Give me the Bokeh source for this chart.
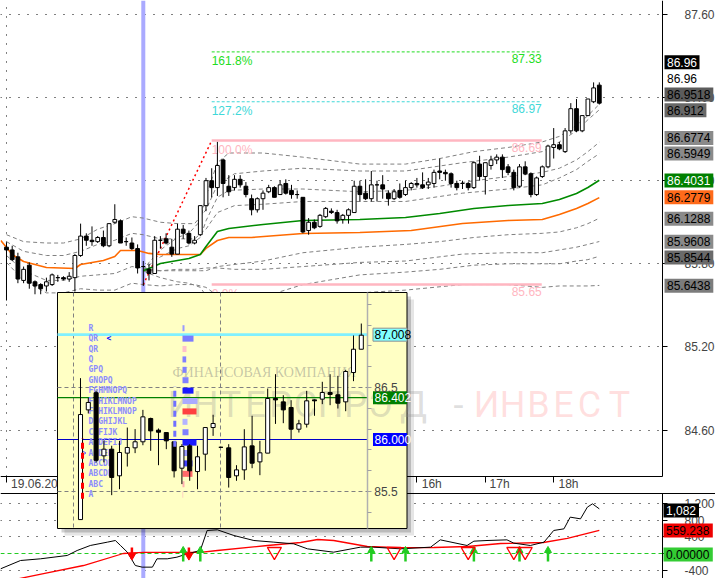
from bokeh.plotting import figure
from bokeh.models import Range1d, LinearAxis, FixedTicker, NumeralTickFormatter, Span, Grid
from bokeh.core.properties import value
from bokeh.embed import file_html
from bokeh.resources import INLINE

# ---------------- data ----------------
# 5-minute bars of 19.06, 10:00 ... 18:40 (x = bar number since 10:00)
candle_open = [85.92, 85.90, 85.85, 85.68, 85.79, 85.67, 85.65, 85.64, 85.65, 85.70,
               85.70, 85.69, 85.70, 85.86, 86.00, 85.97, 85.96, 85.99, 85.93, 86.10,
               86.11, 85.96, 85.95, 85.91, 85.78, 85.76, 85.73, 85.97, 85.98, 85.92,
               85.87, 86.05, 86.02, 85.95, 86.01, 86.22, 86.40, 86.35, 86.55, 86.36,
               86.35, 86.41, 86.36, 86.27, 86.19, 86.27, 86.32, 86.35, 86.30, 86.38,
               86.33, 86.30, 86.28, 86.04, 86.10, 86.07, 86.14, 86.18, 86.17, 86.12,
               86.15, 86.17, 86.36, 86.31, 86.27, 86.37, 86.37, 86.31, 86.27, 86.33,
               86.30, 86.35, 86.38, 86.37, 86.37, 86.38, 86.47, 86.46, 86.45, 86.38,
               86.38, 86.38, 86.35, 86.52, 86.43, 86.51, 86.55, 86.57, 86.50, 86.46,
               86.36, 86.50, 86.45, 86.30, 86.43, 86.50, 86.64, 86.66, 86.61, 86.76,
               86.92, 86.76, 86.87, 86.97, 87.09]
candle_high = [85.955, 85.93, 85.88, 85.78, 85.81, 85.68, 85.66, 85.70, 85.73, 85.72,
               85.71, 85.74, 85.87, 86.09, 86.02, 86.07, 86.00, 86.04, 86.09, 86.23,
               86.12, 85.99, 85.99, 85.94, 85.82, 85.80, 86.00, 86.00, 86.02, 85.98,
               86.09, 86.08, 86.04, 86.00, 86.22, 86.42, 86.49, 86.68, 86.56, 86.44,
               86.44, 86.44, 86.39, 86.30, 86.28, 86.33, 86.37, 86.36, 86.40, 86.41,
               86.37, 86.33, 86.28, 86.13, 86.12, 86.16, 86.21, 86.20, 86.19, 86.16,
               86.20, 86.40, 86.40, 86.41, 86.47, 86.40, 86.44, 86.33, 86.34, 86.38,
               86.40, 86.39, 86.42, 86.46, 86.42, 86.48, 86.56, 86.48, 86.46, 86.40,
               86.40, 86.39, 86.54, 86.58, 86.53, 86.58, 86.59, 86.59, 86.52, 86.48,
               86.52, 86.54, 86.46, 86.43, 86.51, 86.66, 86.78, 86.68, 86.78, 86.96,
               86.99, 86.87, 86.99, 87.11, 87.11]
candle_low = [85.535, 85.82, 85.66, 85.66, 85.62, 85.58, 85.58, 85.60, 85.64, 85.67,
              85.68, 85.67, 85.60, 85.85, 85.93, 85.93, 85.95, 85.92, 85.92, 86.09,
              85.95, 85.93, 85.90, 85.73, 85.64, 85.68, 85.73, 85.91, 85.94, 85.85,
              85.87, 85.98, 85.94, 85.94, 86.00, 86.18, 86.28, 86.29, 86.28, 86.29,
              86.33, 86.35, 86.28, 86.15, 86.17, 86.19, 86.31, 86.28, 86.30, 86.30,
              86.27, 86.27, 86.02, 86.01, 86.05, 86.06, 86.13, 86.16, 86.09, 86.09,
              86.09, 86.17, 86.25, 86.26, 86.25, 86.25, 86.27, 86.22, 86.26, 86.27,
              86.29, 86.33, 86.35, 86.34, 86.34, 86.35, 86.41, 86.40, 86.35, 86.33,
              86.34, 86.33, 86.34, 86.40, 86.30, 86.48, 86.52, 86.42, 86.44, 86.33,
              86.35, 86.44, 86.28, 86.29, 86.42, 86.49, 86.56, 86.62, 86.60, 86.74,
              86.75, 86.75, 86.87, 86.96, 86.95]
candle_close = [85.90, 85.83, 85.69, 85.76, 85.66, 85.64, 85.62, 85.67, 85.72, 85.70,
                85.69, 85.71, 85.86, 86.00, 85.97, 85.96, 85.99, 85.93, 86.09, 86.12,
                85.95, 85.96, 85.91, 85.77, 85.78, 85.73, 85.97, 85.97, 85.95, 85.87,
                86.05, 86.02, 85.95, 85.97, 86.22, 86.40, 86.35, 86.51, 86.38, 86.32,
                86.41, 86.37, 86.30, 86.19, 86.27, 86.31, 86.35, 86.28, 86.37, 86.31,
                86.30, 86.30, 86.03, 86.10, 86.06, 86.15, 86.20, 86.17, 86.11, 86.15,
                86.19, 86.36, 86.30, 86.27, 86.37, 86.37, 86.34, 86.27, 86.32, 86.28,
                86.35, 86.38, 86.37, 86.35, 86.39, 86.46, 86.46, 86.45, 86.38, 86.35,
                86.38, 86.35, 86.53, 86.43, 86.53, 86.55, 86.57, 86.48, 86.46, 86.35,
                86.50, 86.45, 86.30, 86.42, 86.50, 86.65, 86.66, 86.63, 86.76, 86.92,
                86.76, 86.87, 86.99, 87.07, 86.96]

# moving averages (vertices: bar number, price)
orange_idx = [-1, 1, 3, 7, 12, 13, 17, 19, 20, 23, 25, 27, 34, 35, 37, 39, 43, 52, 62, 71, 80, 88, 94, 97, 100, 102, 104]
orange_val = [85.968, 85.867, 85.817, 85.773, 85.766, 85.795, 85.824, 85.853, 85.896, 85.896, 85.875, 85.867, 85.867,
              85.911, 85.968, 85.990, 85.990, 86.019, 86.026, 86.040, 86.091, 86.113, 86.120, 86.156, 86.199, 86.235, 86.2779]
green_idx = [24, 25, 27, 32, 34, 35, 37, 39, 45, 52, 62, 70, 76, 82, 88, 94, 97, 100, 102, 104]
green_val = [85.75, 85.766, 85.802, 85.838, 85.867, 85.925, 86.033, 86.055, 86.084, 86.113, 86.120, 86.134,
             86.163, 86.199, 86.221, 86.235, 86.264, 86.307, 86.351, 86.4031]

# deviation bands around the orange line
ob_idx = [0, 3, 7, 10, 13, 16, 19, 22, 24, 27, 30, 33, 35, 37, 40, 45, 52, 62, 70, 80, 88, 94, 97, 100, 102, 104]
o_up1 = [85.96, 85.89, 85.86, 85.86, 85.89, 85.94, 85.97, 86.02, 86.01, 85.98, 85.98, 85.98, 86.05,
         86.17, 86.22, 86.23, 86.25, 86.25, 86.25, 86.31, 86.34, 86.37, 86.42, 86.48, 86.54, 86.5949]
o_up2 = [86.01, 85.96, 85.95, 85.95, 85.98, 86.05, 86.09, 86.14, 86.13, 86.10, 86.09, 86.09, 86.19,
         86.37, 86.45, 86.47, 86.49, 86.47, 86.47, 86.53, 86.57, 86.61, 86.68, 86.76, 86.84, 86.912]
o_dn1 = [85.86, 85.75, 85.68, 85.68, 85.71, 85.72, 85.73, 85.78, 85.77, 85.75, 85.76, 85.76, 85.77,
         85.77, 85.76, 85.76, 85.78, 85.81, 85.82, 85.87, 85.88, 85.88, 85.90, 85.92, 85.94, 85.9608]
o_dn2 = [85.81, 85.68, 85.59, 85.59, 85.62, 85.61, 85.61, 85.66, 85.65, 85.64, 85.65, 85.65, 85.63,
         85.57, 85.53, 85.53, 85.55, 85.59, 85.61, 85.65, 85.65, 85.63, 85.64, 85.64, 85.64, 85.6438]
# deviation bands around the green line
gb_idx = [24, 25, 27, 30, 32, 34, 35, 37, 39, 45, 52, 62, 70, 76, 82, 88, 94, 97, 100, 102, 104]
g_up1 = [85.75, 85.79, 85.85, 85.91, 85.93, 85.99, 86.11, 86.28, 86.33, 86.34, 86.34, 86.32, 86.33,
         86.36, 86.40, 86.43, 86.46, 86.49, 86.55, 86.61, 86.6774]
g_up2 = [85.75, 85.81, 85.90, 85.99, 86.02, 86.11, 86.29, 86.53, 86.60, 86.60, 86.57, 86.52, 86.52,
         86.56, 86.61, 86.64, 86.68, 86.72, 86.80, 86.87, 86.9518]
g_dn1 = [85.75, 85.75, 85.75, 85.75, 85.75, 85.75, 85.75, 85.78, 85.79, 85.82, 85.88, 85.92, 85.94,
         85.96, 85.99, 86.01, 86.02, 86.03, 86.06, 86.09, 86.1288]
g_dn2 = [85.75, 85.73, 85.70, 85.67, 85.66, 85.63, 85.57, 85.53, 85.52, 85.56, 85.65, 85.72, 85.74,
         85.76, 85.79, 85.80, 85.80, 85.80, 85.82, 85.83, 85.8544]

# Fibonacci extension
fib_pct = ["0.0%", "100.0%", "127.2%", "161.8%"]
fib_price = [85.65, 86.69, 86.97, 87.33]
fib_anchor_idx = [24, 36]
fib_end_idx = 93.9
session_idx = 24   # 12:00
day_start_idx = 0  # 10:00

# oscillator pane
osc_idx = [-1.05, 2.46, 5.96, 10.65, 12.4, 14.7, 17.7, 19.1, 20, 21.2, 22.6, 23.8, 25.6, 26.4, 28.2, 29.9,
           31.7, 34, 35.2, 37, 39.9, 43.4, 46.9, 50.4, 52.8, 57.4, 62.1, 64.4, 69.1, 74.4, 76.1, 80.8, 82,
           84.3, 87.8, 89, 91.9, 94.3, 96, 97.8, 98.9, 100.7, 101.9, 102.8, 104]
osc_val = [-372, -170, -129, -48, 73, 194, 275, 315, 194, 32, -291, -331, -331, -129, -129, -89,
           -8, 73, 558, 574, 436, 315, 275, 234, 113, 32, 154, 154, 113, 154, 331, 194, 299,
           315, 331, 251, 194, 275, 558, 598, 881, 840, 1123, 1204, 1082]
sig_idx = [-1.05, 6.5, 13.5, 20.5, 24, 34, 37, 45.8, 51.6, 54.6, 57.4, 63.3, 69.1, 75, 80.9, 86.7, 94.2, 98.4, 104]
sig_val = [-700, -490, -291, 0, 28, 28, 73, 194, 267, 339, 315, 170, 140, 145, 170, 242, 267, 364, 559]
up_idx = [31, 34, 64, 70, 82, 90, 95]
down_idx = [22, 32]
warn_idx = [47, 68, 81, 89, 91]

# axis ticks / labels
price_ticks = [84.60, 85.20, 85.80, 86.40, 87.00, 87.60]
osc_ticks = [-400, 0, 400, 800, 1200]
osc_grid_ticks = [-400, 400, 800, 1200]
hour_tick_idx = [0, 12, 24, 36, 48, 60, 72, 84, 96]
hour_labels = ["19.06.20", "16h", "17h", "18h"]
hour_label_idx = [4.9, 74.6, 86.5, 98.6]

# value tags on the right
tag_text = ["86.96", "86.96", "86.9518", "86.912", "86.6774", "86.5949", "86.4031", "86.2779",
            "86.1288", "85.9608", "85.8544", "85.6438"]
tag_pos = [87.2556, 87.1415, 87.0231, 86.9090, 86.7090, 86.5964, 86.4015, 86.2809,
           86.1249, 85.9596, 85.8455, 85.6419]
tag_fill = ["#000000", None, "#5c5c5c", "#686868", "#8a8a8a", "#8a8a8a", "#008000", "#ff6a1a",
            "#8a8a8a", "#8a8a8a", "#6a6a6a", "#7c7c7c"]
tag_tcol = ["white", "black", "black", "black", "black", "black", "white", "black",
            "black", "black", "black", "black"]
osc_tag_text = ["1,082", "559.238", "0.00000"]
osc_tag_pos = [1042, 558, -24]
osc_tag_fill = ["#000000", "#ee0000", "#33cc33"]
osc_tag_tcol = ["white", "black", "black"]

# inset (zoomed candles with TPO profile)
ins_open = [85.23, 86.285, 86.45, 85.843, 85.907, 85.651, 85.869, 85.920, 85.978, 86.202, 86.09, 86.067,
            85.978, 85.724, 85.939, 85.692, 85.859, 86.115, 85.925, 85.92, 85.651, 85.708, 85.939, 85.785,
            85.869, 86.394, 86.362, 86.308, 86.099, 86.147, 86.381, 86.388, 86.452, 86.430, 86.362, 86.644, 86.868]
ins_high = [86.59, 86.40, 86.47, 85.99, 85.94, 85.987, 86.115, 86.10, 86.285, 86.21, 86.106, 86.067,
            85.978, 85.955, 85.955, 85.94, 86.115, 86.238, 85.93, 85.955, 85.753, 86.099, 86.228, 85.987,
            86.490, 86.628, 86.426, 86.378, 86.189, 86.468, 86.385, 86.555, 86.628, 86.612, 86.670, 87.0, 87.115]
ins_low = [85.23, 86.25, 85.78, 85.78, 85.465, 85.522, 85.74, 85.869, 85.945, 85.891, 85.753, 85.907,
           85.635, 85.571, 85.603, 85.522, 85.70, 86.035, 85.92, 85.538, 85.603, 85.612, 85.724, 85.657,
           85.869, 86.15, 86.157, 86.003, 86.067, 86.115, 86.228, 86.340, 86.330, 86.298, 86.272, 86.561, 86.868]
ins_close = [86.24, 86.356, 85.80, 85.907, 85.635, 85.875, 85.923, 85.978, 86.218, 86.083, 86.07, 85.987,
             85.699, 85.933, 85.699, 85.834, 86.115, 86.154, 85.925, 85.635, 85.708, 85.929, 85.772, 85.872,
             86.394, 86.381, 86.285, 86.099, 86.151, 86.372, 86.372, 86.452, 86.433, 86.349, 86.654, 86.868, 87.003]
tpo_price = [87.07, 86.97, 86.87, 86.77, 86.67, 86.57, 86.47, 86.37, 86.27, 86.17, 86.07, 85.97,
             85.87, 85.77, 85.67, 85.57, 85.47]
tpo_letters = ["R", "QR", "QR", "Q", "GPQ", "GNOPQ", "FGHMNOPQ", "FGHIKLMNOP", "FGHIKLMNOP", "DFGHIJKL",
               "CDFIJK", "ACDEFIJ", "ACDEF", "ABCDE", "ABCDE", "ABC", "A"]
tpo_volume = [20, 110, 40, 37, 40, 60, 110, 150, 140, 50, 60, 140, 77, 100, 100, 20, 7]
tpo_colors = ["#9a9aff", "#7b7bff", "#ffc0cb", "#8080ff", "#8080ff", "#8080ff", "#1a1aff", "#aaaaff",
              "#ff4040", "#b4b4ff", "#8080ff", "#1a1aff", "#9a9aff", "#4040ff", "#ff6a6a", "#ffb0b0", "#ffc0c0"]
ins_level_price = [87.008, 86.402, 86.000]
ins_level_text = ["87.008", "86.402", "86.000"]
ins_level_color = ["#80f0ff", "#008000", "#0000c8"]
ins_tag_fill = ["#80ffff", "#008000", "#0000ff"]
ins_tag_tcol = ["black", "white", "white"]
ins_axis_ticks = [85.3, 85.5, 85.7, 85.9, 86.1, 86.3, 86.5, 86.7, 86.9, 87.1, 87.3]
ins_axis_labels = {85.5: "85.5", 86.5: "86.5"}
ib_range = [85.43, 86.01]      # red initial-balance marks
va_range = [85.93, 86.51]      # blue value-area marks

wm_title = "ФИНАНСОВАЯ КОМПАНИЯ"
wm_letters = list("ИНТЕРСПРЭД-ИНВЕСТ")

# ---------------- layout constants (screen geometry) ----------------
FONT = "Liberation Sans"
PX_X = 5.7          # px per bar
PX_Y = 138.5        # px per price unit
X_START, X_END = -1.0526, 124.386
Y_START, Y_END = 83.5278, 87.70108
AXIS_X = 115.088    # price axis line
TAG_LEFT = 115.44
TAG_TXT = 115.877
BAND_TOP = 84.2643  # top line of the time band
PANE_TOP = 84.1415  # top line of the oscillator pane
OSC_PX = 24.24      # oscillator units per px
INS_PX_X = 7.8
INS_PX_Y = 104.0

p = figure(width=715, height=578, x_range=Range1d(X_START, X_END), y_range=Range1d(Y_START, Y_END),
           x_axis_type=None, y_axis_type=None, output_backend="svg", toolbar_location=None,
           min_border=0, min_border_left=0, min_border_right=0, min_border_top=0, min_border_bottom=0)
p.outline_line_color = None
p.background_fill_color = "white"
p.border_fill_color = "white"
p.extra_y_ranges = {"osc": Range1d(-606, 13404.7), "ins": Range1d(84.6635, 90.2212)}
p.extra_x_ranges = {"insx": Range1d(-10.2564, 81.4103), "prof": Range1d(-1820, 5330)}

# grids
p.add_layout(Grid(dimension=1, ticker=FixedTicker(ticks=price_ticks), grid_line_color="black",
                  grid_line_dash="1 8", grid_line_width=1))
p.add_layout(Grid(dimension=1, y_range_name="osc", ticker=FixedTicker(ticks=osc_grid_ticks),
                  grid_line_color="black", grid_line_dash="1 8", grid_line_width=1))
p.add_layout(Span(location=session_idx, dimension="height", line_color="#aaaaff", line_width=4, level="underlay"))

# right label column background
p.quad(left=[AXIS_X], right=[X_END], bottom=[Y_START], top=[Y_END], fill_color="white", line_color=None)
# day-start dotted line
p.segment(x0=[day_start_idx], x1=[day_start_idx], y0=[BAND_TOP], y1=[Y_END], line_color="black",
          line_dash="1 8", line_width=1)

# bands
for vals in (o_up2, o_up1, o_dn1, o_dn2):
    p.line(ob_idx, vals, line_color="#808080", line_dash="4 3", line_width=1)
for vals in (g_up2, g_up1, g_dn1, g_dn2):
    p.line(gb_idx, vals, line_color="#808080", line_dash="4 3", line_width=1)
p.line(orange_idx, orange_val, line_color="#ff6a00", line_width=1.6)
p.line(green_idx, green_val, line_color="#008a00", line_width=1.6)

# fibonacci
fib_colors = ["#ffb6c1", "#ffb6c1", "#40d8d8", "#22dd22"]
fib_dashes = ["solid", "solid", "3 2", "3 2"]
fib_widths = [2.5, 2.5, 1, 1]
for pr, col, dsh, lw in zip(fib_price, fib_colors, fib_dashes, fib_widths):
    p.segment(x0=[fib_anchor_idx[1]], x1=[fib_end_idx], y0=[pr], y1=[pr], line_color=col, line_dash=dsh, line_width=lw)
p.line(fib_anchor_idx, fib_price[:2], line_color="#ff0000", line_dash="2 3", line_width=1.5)
p.text(x=[fib_anchor_idx[1]] * 4, y=fib_price, text=fib_pct, text_color=fib_colors, text_baseline="top",
       y_offset=2, text_font_size="12px", text_font=value(FONT))
p.text(x=[fib_end_idx] * 4, y=fib_price, text=["%.2f" % v for v in fib_price], text_color=fib_colors,
       text_baseline="top", text_align="right", y_offset=2, text_font_size="12px", text_font=value(FONT))

# candles
idx = list(range(len(candle_open)))
p.segment(x0=idx, x1=idx, y0=candle_low, y1=candle_high, line_color="black", line_width=1)
up = [i for i in idx if candle_close[i] >= candle_open[i]]
dn = [i for i in idx if candle_close[i] < candle_open[i]]
p.vbar(x=up, bottom=[candle_open[i] for i in up], top=[candle_close[i] for i in up], width=0.66,
       fill_color="white", line_color="black", line_width=1)
p.vbar(x=dn, bottom=[candle_close[i] for i in dn], top=[candle_open[i] for i in dn], width=0.66,
       fill_color="black", line_color="black", line_width=1)

# oscillator
p.segment(x0=[X_START], x1=[AXIS_X], y0=[0], y1=[0], y_range_name="osc", line_color="#22cc22",
          line_dash="4 3", line_width=1.2)
p.line(sig_idx, sig_val, y_range_name="osc", line_color="#ff0000", line_width=1.3)
p.line(osc_idx, osc_val, y_range_name="osc", line_color="black", line_width=1)
n = len(up_idx)
p.segment(x0=up_idx, x1=up_idx, y0=[24] * n, y1=[-194] * n, y_range_name="osc", line_color="#22cc22", line_width=2.5)
p.scatter(up_idx, [73] * n, y_range_name="osc", marker="triangle", size=7, fill_color="#22cc22", line_color="#22cc22")
n = len(down_idx)
p.segment(x0=down_idx, x1=down_idx, y0=[145] * n, y1=[0] * n, y_range_name="osc", line_color="#ff0000", line_width=2.5)
p.scatter(down_idx, [-48] * n, y_range_name="osc", marker="inverted_triangle", size=8, fill_color="#ff0000", line_color="#ff0000")
n = len(warn_idx)
p.scatter(warn_idx, [48] * n, y_range_name="osc", marker="inverted_triangle", size=14, fill_color=None,
          line_color="#ff0000", line_width=1.3)

p.add_layout(Span(location=PANE_TOP, dimension="width", line_color="black", line_width=1, level="glyph"))

# axes
ax_price = LinearAxis(fixed_location=AXIS_X, bounds=(BAND_TOP, Y_END), ticker=FixedTicker(ticks=price_ticks),
                      formatter=NumeralTickFormatter(format="0.00"), major_tick_out=5, major_tick_in=0,
                      minor_tick_out=0, minor_tick_in=0, major_label_standoff=17,
                      major_label_text_font_size="12px", major_label_text_font=FONT,
                      axis_line_color="black", major_tick_line_color="black")
p.add_layout(ax_price, "right")
ax_osc = LinearAxis(y_range_name="osc", fixed_location=AXIS_X, bounds=(-606, 1454), ticker=FixedTicker(ticks=osc_ticks),
                    formatter=NumeralTickFormatter(format="0,0"), major_tick_out=5, major_tick_in=0,
                    minor_tick_out=0, minor_tick_in=0, major_label_standoff=17,
                    major_label_text_font_size="12px", major_label_text_font=FONT,
                    axis_line_color="black", major_tick_line_color="black")
p.add_layout(ax_osc, "right")
ax_hours = LinearAxis(fixed_location=BAND_TOP, bounds=(X_START, AXIS_X), ticker=FixedTicker(ticks=hour_tick_idx),
                      major_label_overrides={t: "" for t in hour_tick_idx}, major_tick_out=6, major_tick_in=0,
                      minor_tick_out=0, minor_tick_in=0, axis_line_color="black", major_tick_line_color="black")
p.add_layout(ax_hours, "below")
ax_hlab = LinearAxis(fixed_location=BAND_TOP, ticker=FixedTicker(ticks=hour_label_idx),
                     major_label_overrides=dict(zip(hour_label_idx, hour_labels)), major_tick_out=0, major_tick_in=0,
                     minor_tick_out=0, minor_tick_in=0, axis_line_color=None, major_tick_line_color=None,
                     major_label_standoff=1, major_label_text_font_size="12px", major_label_text_font=FONT)
p.add_layout(ax_hlab, "below")

# value tags (main)
box_i = [i for i, f in enumerate(tag_fill) if f is not None]
p.quad(left=[TAG_LEFT] * len(box_i), right=[TAG_LEFT + (6.9 * len(tag_text[i]) + 0.5) / PX_X for i in box_i],
       bottom=[tag_pos[i] - 7 / PX_Y for i in box_i], top=[tag_pos[i] + 7 / PX_Y for i in box_i],
       fill_color=[tag_fill[i] for i in box_i], line_color=None, level="overlay")
p.text(x=[TAG_TXT] * len(tag_text), y=tag_pos, text=tag_text, text_color=tag_tcol, text_baseline="middle",
       text_font_size="12px", text_font=value(FONT), level="overlay")
# value tags (oscillator)
OSC_LEFT = 115.263
p.quad(left=[OSC_LEFT] * 3, right=[OSC_LEFT + (6.9 * len(t) + 1) / PX_X for t in osc_tag_text],
       bottom=[v - 7 * OSC_PX for v in osc_tag_pos], top=[v + 7 * OSC_PX for v in osc_tag_pos],
       fill_color=osc_tag_fill, line_color=None, y_range_name="osc", level="overlay")
p.text(x=[OSC_LEFT + 2.5 / PX_X] * 3, y=osc_tag_pos, text=osc_tag_text, text_color=osc_tag_tcol,
       text_baseline="middle", text_font_size="12px", text_font=value(FONT), y_range_name="osc", level="overlay")

# ---------------- inset ----------------
KI = dict(x_range_name="insx", y_range_name="ins", level="annotation")
IL, IR, IT, IB = -2.949, 41.86, 87.4135, 85.1442
IAX = 36.76
for off, alpha in ((7, 0.10), (4, 0.18)):
    p.quad(left=[IL + off / INS_PX_X], right=[IR + off / INS_PX_X], top=[IT - off / INS_PX_Y],
           bottom=[IB - off / INS_PX_Y], fill_color="black", fill_alpha=alpha, line_color=None, **KI)
p.quad(left=[IL], right=[IR], top=[IT], bottom=[IB], fill_color="#ffffc4", line_color="black", line_width=1, **KI)

# watermark (under inset content)
KW = dict(level="annotation")
p.text(x=[(172 - 6) / PX_X], y=[85.0152], text=[wm_title], text_color="#808080", text_alpha=0.45,
       text_baseline="middle", text_font_size="14px", text_font=value("Liberation Serif"), **KW)
wm_x_px = [180, 205, 230, 255, 280, 305, 330, 355, 380, 413, 458, 486, 512, 538, 563, 589, 619]
wm_cols = ["#909090"] * 11 + ["#ff8080"] * 6
wm_alpha = [0.3] * 11 + [0.25] * 6
p.text(x=[(x - 6) / PX_X for x in wm_x_px], y=[84.784] * len(wm_letters), text=wm_letters, text_color=wm_cols,
       text_alpha=wm_alpha, text_align="center", text_baseline="middle", text_font_size="36px",
       text_font=value("Roboto"), **KW)

# inset grid
p.segment(x0=[-0.897, 17.95], x1=[-0.897, 17.95], y0=[IT, IT], y1=[IB, IB], line_color="#808080",
          line_dash="4 3", line_width=1, **KI)
p.segment(x0=[IL, IL], x1=[IAX, IAX], y0=[86.5, 85.5], y1=[86.5, 85.5], line_color="#808080",
          line_dash="4 3", line_width=1, **KI)
for pr, col, lw in zip(ins_level_price, ins_level_color, [2.6, 1.2, 1.2]):
    p.segment(x0=[IL], x1=[IAX], y0=[pr], y1=[pr], line_color=col, line_width=lw, **KI)

# TPO profile
p.hbar(y=tpo_price, left=[0] * len(tpo_volume), right=tpo_volume, height=0.058, fill_color=tpo_colors,
       line_color=None, x_range_name="prof", y_range_name="ins", level="annotation")
p.text(x=[1.03] * len(tpo_letters), y=tpo_price, text=tpo_letters, text_color="#8c8cff", text_baseline="middle",
       text_font_size="8px", text_font_style="bold", text_font=value("DejaVu Sans Mono"), **KI)
p.text(x=[3.33], y=[tpo_price[1]], text=["<"], text_color="#0000ff", text_baseline="middle",
       text_font_size="8px", text_font_style="bold", text_font=value("DejaVu Sans Mono"), **KI)
p.scatter([0.26], [tpo_price[12]], marker="triangle", angle=-1.5708, size=6, fill_color=None,
          line_color="#6060ff", **KI)

# inset candles
jdx = list(range(len(ins_open)))
p.segment(x0=jdx, x1=jdx, y0=ins_low, y1=ins_high, line_color="black", line_width=1, **KI)
iu = [j for j in jdx if ins_close[j] >= ins_open[j]]
idn = [j for j in jdx if ins_close[j] < ins_open[j]]
p.vbar(x=iu, bottom=[ins_open[j] for j in iu], top=[ins_close[j] for j in iu], width=0.52,
       fill_color="white", line_color="black", line_width=1, **KI)
p.vbar(x=idn, bottom=[ins_close[j] for j in idn], top=[ins_open[j] for j in idn], width=0.52,
       fill_color="black", line_color="black", line_width=1, **KI)
p.segment(x0=[0.256], x1=[0.256], y0=[ib_range[0]], y1=[ib_range[1]], line_color="#ff0000", line_width=3,
          line_dash="6 4", **KI)
p.segment(x0=[12.09], x1=[12.09], y0=[va_range[0]], y1=[va_range[1]], line_color="#7070ff", line_width=3,
          line_dash="6 4", **KI)

# inset axis + tags
ax_ins = LinearAxis(x_range_name="insx", y_range_name="ins", fixed_location=IAX, bounds=(IB, IT),
                    ticker=FixedTicker(ticks=ins_axis_ticks),
                    major_label_overrides={t: ins_axis_labels.get(t, "") for t in ins_axis_ticks},
                    major_tick_out=4, major_tick_in=0, minor_tick_out=0, minor_tick_in=0, major_label_standoff=3,
                    axis_line_color="#b0b0b0", axis_line_width=1.5, major_tick_line_color="#a0a0a0",
                    major_label_text_font_size="12px", major_label_text_font=FONT, level="overlay")
p.add_layout(ax_ins, "right")
ITL = 37.5
p.quad(left=[ITL] * 3, right=[41.86] * 3, bottom=[v - 6.5 / INS_PX_Y for v in ins_level_price],
       top=[v + 6.5 / INS_PX_Y for v in ins_level_price], fill_color=ins_tag_fill,
       line_color=["#909090", None, None], x_range_name="insx", y_range_name="ins", level="overlay")
p.text(x=[ITL + 1.5 / INS_PX_X] * 3, y=ins_level_price, text=ins_level_text, text_color=ins_tag_tcol,
       text_baseline="middle", text_font_size="12px", text_font=value(FONT),
       x_range_name="insx", y_range_name="ins", level="overlay")

open("out.html", "w").write(file_html(p, INLINE))
